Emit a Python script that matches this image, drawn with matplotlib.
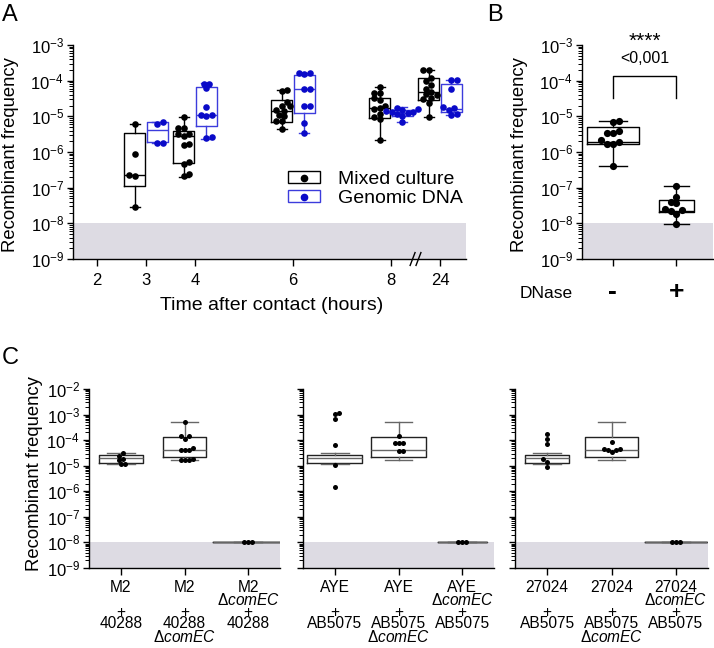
import numpy as np
import matplotlib
matplotlib.use("Agg")
import matplotlib.pyplot as plt
from matplotlib.lines import Line2D
from matplotlib.patches import Rectangle
from matplotlib.ticker import LogLocator, LogFormatterSciNotation, NullFormatter

plt.rcParams['font.family'] = ['Liberation Sans', 'DejaVu Sans']
plt.rcParams['mathtext.fontset'] = 'custom'
plt.rcParams['mathtext.rm'] = 'Liberation Sans'
plt.rcParams['mathtext.it'] = 'Liberation Sans:italic'
plt.rcParams['axes.linewidth'] = 1.0

# ---------------- DATA ----------------
# boxes are (min, q1, median, q3, max)

# Panel A
hours = [2, 3, 4, 6, 8, 24]
mixed_hours = [3, 4, 6, 8, 24]
mixed_box = [
    (2.8e-8, 1.14e-7, 2.26e-7, 3.5e-6, 6.0e-6),
    (2.04e-7, 5.0e-7, 2.8e-6, 4.0e-6, 9.8e-6),
    (4.4e-6, 6.8e-6, 1.41e-5, 2.87e-5, 5.5e-5),
    (2.17e-6, 9.2e-6, 1.68e-5, 3.33e-5, 6.5e-5),
    (9.4e-6, 2.87e-5, 4.9e-5, 1.16e-4, 2.0e-4),
]
mixed_pts = [
    [6.0e-6, 8.7e-7, 2.3e-7, 2.1e-7, 2.8e-8],
    [9.8e-6, 4.8e-6, 4.6e-6, 3.3e-6, 3.3e-6, 2.8e-6, 1.7e-6, 1.6e-6,
     5.4e-7, 4.6e-7, 2.4e-7, 2.1e-7],
    [5.5e-5, 5.3e-5, 2.6e-5, 2.0e-5, 1.9e-5, 1.5e-5, 1.45e-5, 1.1e-5,
     1.0e-5, 7.6e-6, 7.2e-6, 4.5e-6],
    [6.5e-5, 4.6e-5, 4.4e-5, 3.2e-5, 2.8e-5, 2.0e-5, 1.7e-5, 1.6e-5,
     1.2e-5, 9.5e-6, 8.5e-6, 2.2e-6],
    [2.0e-4, 1.95e-4, 1.2e-4, 1.0e-4, 7.8e-5, 6.0e-5, 4.9e-5, 4.2e-5,
     4.0e-5, 3.2e-5, 3.0e-5, 2.3e-5, 9.4e-6],
]
gdna_hours = [3, 4, 6, 8, 24]
gdna_box = [
    (1.83e-6, 1.85e-6, 4.14e-6, 6.8e-6, 7.1e-6),
    (2.26e-6, 5.37e-6, 1.09e-5, 6.5e-5, 8.8e-5),
    (3.5e-6, 1.27e-5, 5.7e-5, 1.41e-4, 1.67e-4),
    (7.1e-6, 1.02e-5, 1.27e-5, 1.51e-5, 1.79e-5),
    (1.09e-5, 1.32e-5, 1.57e-5, 7.9e-5, 1.04e-4),
]
gdna_pts = [
    [7.1e-6, 6.1e-6, 1.83e-6, 1.83e-6],
    [8.3e-5, 8.3e-5, 6.1e-5, 1.8e-5, 1.1e-5, 1.1e-5, 1.05e-5, 2.7e-6, 2.5e-6],
    [1.65e-4, 1.6e-4, 1.55e-4, 5.7e-5, 5.7e-5, 2.0e-5, 2.0e-5, 6.6e-6, 3.5e-6],
    [1.75e-5, 1.6e-5, 1.5e-5, 1.45e-5, 1.35e-5, 1.3e-5, 1.25e-5, 1.15e-5,
     1.05e-5, 7.1e-6],
    [1.04e-4, 1.02e-4, 5.7e-5, 1.8e-5, 1.7e-5, 1.5e-5, 1.2e-5, 1.1e-5],
]

# Panel B
dnase_labels = ['-', '+']
dnase_box = [
    (4.14e-7, 1.64e-6, 1.95e-6, 5.0e-6, 7.6e-6),
    (9.6e-9, 2.04e-8, 2.27e-8, 4.5e-8, 1.11e-7),
]
dnase_pts = [
    [7.6e-6, 7.0e-6, 3.8e-6, 3.5e-6, 3.4e-6, 2.2e-6, 1.95e-6, 1.7e-6, 1.65e-6, 4.1e-7],
    [1.11e-7, 5.6e-8, 3.9e-8, 3.6e-8, 2.5e-8, 2.4e-8, 2.2e-8, 1.8e-8, 9.6e-9],
]
p_stars = '****'
p_text = '<0,001'

# Panel C
c_donor = ['M2', 'AYE', '27024']
c_recipient = ['40288', 'AB5075', 'AB5075']
c_donor_mut = [False, False, True]       # ΔcomEC under the donor name
c_recipient_mut = [False, True, False]   # ΔcomEC under the recipient name
c_box = [
    [(1.15e-5, 1.26e-5, 1.97e-5, 2.66e-5, 3.09e-5),
     (1.7e-5, 2.16e-5, 4.17e-5, 1.38e-4, 5.3e-4),
     (1e-8, 1e-8, 1e-8, 1e-8, 1e-8)],
    [(1.15e-5, 1.26e-5, 1.97e-5, 2.66e-5, 3.09e-5),
     (1.7e-5, 2.16e-5, 4.17e-5, 1.38e-4, 5.3e-4),
     (1e-8, 1e-8, 1e-8, 1e-8, 1e-8)],
    [(1.15e-5, 1.26e-5, 1.97e-5, 2.66e-5, 3.09e-5),
     (1.7e-5, 2.16e-5, 4.17e-5, 1.38e-4, 5.3e-4),
     (1e-8, 1e-8, 1e-8, 1e-8, 1e-8)],
]
c_pts = [
    [[3.1e-5, 2.4e-5, 1.9e-5, 1.6e-5, 1.2e-5, 1.15e-5],
     [5.3e-4, 1.5e-4, 1.45e-4, 1.1e-4, 5.0e-5, 4.3e-5, 4.1e-5, 4.0e-5,
      1.8e-5, 1.7e-5, 1.65e-5, 1.6e-5],
     [1e-8, 1e-8, 1e-8]],
    [[1.19e-3, 1.06e-3, 6.8e-4, 6.5e-5, 1.02e-5, 1.46e-6],
     [1.48e-4, 7.7e-5, 7.6e-5, 7.5e-5, 3.6e-5, 3.6e-5],
     [1e-8, 1e-8, 1e-8]],
    [[1.76e-4, 1.12e-4, 7.1e-5, 1.8e-5, 1.38e-5, 8.8e-6],
     [8.1e-5, 4.5e-5, 4.4e-5, 4.3e-5, 4.2e-5, 3.3e-5],
     [1e-8, 1e-8, 1e-8]],
]

# ---------------- STYLE ----------------
W, H = 714, 648
band = '#dddbe3'
blue_edge = '#3c3cdc'
blue_dot = '#0a0ac8'

fig = plt.figure(figsize=(W / 100, H / 100), dpi=100)


def add_ax(l, t, r, b):
    return fig.add_axes([l / W, 1 - b / H, (r - l) / W, (b - t) / H])


def log_axis(ax, lo, hi):
    ax.set_yscale('log')
    ax.set_ylim(lo, hi)
    ax.yaxis.set_major_locator(LogLocator(base=10, numticks=20))
    ax.yaxis.set_minor_locator(LogLocator(base=10, subs=np.arange(2, 10), numticks=20))
    ax.yaxis.set_minor_formatter(NullFormatter())
    ax.yaxis.set_major_formatter(LogFormatterSciNotation())
    for s in ('top', 'right'):
        ax.spines[s].set_visible(False)
    ax.tick_params(axis='both', which='major', length=4.5, width=1, labelsize=12)
    ax.tick_params(axis='y', which='major', pad=2)
    ax.tick_params(axis='y', which='minor', length=2.6, width=0.7)
    ax.axhspan(lo, 1e-8, color=band, lw=0, zorder=0)


def swarm(ax, x0, values, diam):
    # simple beeswarm: push dots sideways until they stop overlapping (pixels)
    pts = ax.transData.transform(np.column_stack([np.full(len(values), x0), values]))
    ys = pts[:, 1]
    placed = []
    dx = np.zeros(len(values))
    for i in np.argsort(ys):
        k, best = 0, None
        while best is None:
            for sgn in ((1, -1) if len(placed) % 2 else (-1, 1)):
                cand = sgn * k * diam * 0.4
                if all((cand - px) ** 2 + (ys[i] - py) ** 2 >= (diam * 0.8) ** 2 for px, py in placed):
                    best = cand
                    break
            k += 1
        placed.append((best, ys[i]))
        dx[i] = best
    back = ax.transData.inverted().transform(np.column_stack([pts[:, 0] + dx, ys]))
    return back[:, 0]


def boxes(ax, pos, stats, widths, capw, ec, wc=None, mc=None, lw=1.0):
    wc = wc or ec
    mc = mc or ec
    st = [dict(whislo=b[0], q1=b[1], med=b[2], q3=b[3], whishi=b[4], fliers=[]) for b in stats]
    ax.bxp(st, positions=pos, widths=widths, capwidths=capw, showfliers=False,
           manage_ticks=False,
           boxprops=dict(color=ec, lw=lw), whiskerprops=dict(color=wc, lw=lw),
           capprops=dict(color=wc, lw=lw), medianprops=dict(color=mc, lw=lw))


def dots(ax, pos, pts, color, size_px):
    for p, vals in zip(pos, pts):
        xs = swarm(ax, p, vals, size_px)
        ax.scatter(xs, vals, s=(size_px * 0.72) ** 2, color=color, zorder=3,
                   linewidths=0, clip_on=False)


# ---------------- PANEL A ----------------
def hour_x(h):
    # 24 h sits just after the axis break
    return h if h <= 8 else 9


axA = add_ax(73, 45, 466, 259)
log_axis(axA, 1e-9, 1e-3)
axA.set_xlim(1.51, 9.53)
axA.set_xticks([hour_x(h) for h in hours])
axA.set_xticklabels([str(h) for h in hours])
axA.tick_params(axis='x', length=5, pad=5)

mx = [hour_x(h) - 0.23 for h in mixed_hours]
gx = [hour_x(h) + 0.23 for h in gdna_hours]
boxes(axA, mx, mixed_box, 0.43, 0.2, 'black')
boxes(axA, gx, gdna_box, 0.43, 0.2, blue_edge)
dots(axA, mx, mixed_pts, 'black', 6.6)
dots(axA, gx, gdna_pts, blue_dot, 6.6)

# axis break marks
for xb in (8.44, 8.56):
    axA.plot([xb - 0.05, xb + 0.05], [-0.03, 0.03], color='black', lw=1.0,
             transform=axA.get_xaxis_transform(), clip_on=False)

h1 = (Rectangle((0, 0), 1, 1, fc='none', ec='black', lw=1.0),
      Line2D([], [], marker='o', ls='none', color='black', ms=4.5))
h2 = (Rectangle((0, 0), 1, 1, fc='none', ec=blue_edge, lw=1.0),
      Line2D([], [], marker='o', ls='none', color=blue_dot, ms=4.5))
axA.legend([h1, h2], ['Mixed culture', 'Genomic DNA'], loc='upper left',
           bbox_to_anchor=(288 / W, 1 - 171 / H), bbox_transform=fig.transFigure,
           frameon=False, fontsize=14, handlelength=1.65, handleheight=0.55,
           handletextpad=0.9, labelspacing=0.1, borderpad=0, borderaxespad=0)

fig.text(10.5 / W, 1 - 154.5 / H, 'Recombinant frequency', rotation=90,
         ha='center', va='center', fontsize=13.3)
fig.text(271.5 / W, 1 - 306 / H, 'Time after contact (hours)', ha='center',
         va='center', fontsize=14)

# ---------------- PANEL B ----------------
axB = add_ax(582, 45, 713, 259)
log_axis(axB, 1e-9, 1e-3)
axB.set_xlim(0.515, 2.577)
axB.set_xticks([1, 2])
axB.tick_params(axis='x', length=5, labelbottom=False)
boxes(axB, [1, 2], dnase_box, [0.82, 0.56], [0.44, 0.39], 'black')
dots(axB, [1, 2], dnase_pts, 'black', 7.2)
for x, lab in zip([1, 2], dnase_labels):
    axB.annotate(lab, xy=(x, 0), xycoords=('data', 'axes fraction'),
                 xytext=(0, -33 * 0.72), textcoords='offset points',
                 ha='center', va='center', fontsize=19, fontweight='bold',
                 annotation_clip=False)
axB.plot([1, 1, 2, 2], [3.3e-5, 1.35e-4, 1.35e-4, 3.3e-5], color='black',
         lw=1.0, clip_on=False)
axB.text(1.5, 1.25e-3, p_stars, ha='center', va='center', fontsize=15)
axB.text(1.5, 4.3e-4, p_text, ha='center', va='center', fontsize=11.5)
fig.text(546 / W, 1 - 293 / H, 'DNase', ha='center', va='center', fontsize=12.5)
fig.text(520 / W, 1 - 155 / H, 'Recombinant frequency', rotation=90,
         ha='center', va='center', fontsize=13.3)

# ---------------- PANEL C ----------------
c_frames = [(89, 280), (303, 494), (515, 708)]
c_widths = [[0.69, 0.69, 1.1], [0.86, 0.85, 0.77], [0.68, 0.82, 0.97]]
mut = r'Δ$\mathit{comEC}$'
for k, (l, r) in enumerate(c_frames):
    ax = add_ax(l, 389, r, 568)
    log_axis(ax, 1e-9, 1e-2)
    ax.set_xlim(0.5, 3.5)
    ax.set_xticks([1, 2, 3])
    ax.tick_params(axis='x', length=5, labelbottom=False)
    if k > 0:
        ax.tick_params(axis='y', labelleft=False)
    boxes(ax, [1, 2, 3], c_box[k], c_widths[k], 0.43, '#222222', wc='#666666',
          mc='#666666', lw=1.0)
    dots(ax, [1, 2, 3], c_pts[k], 'black', 5.0)
    for i in range(3):
        lines = [(c_donor[k], 20), ('+', 44), (c_recipient[k], 56)]
        if c_donor_mut[i]:
            lines.append((mut, 32))
        if c_recipient_mut[i]:
            lines.append((mut, 69))
        for txt, dy in lines:
            ax.annotate(txt, xy=(i + 1, 0), xycoords=('data', 'axes fraction'),
                        xytext=(0, -dy * 0.72), textcoords='offset points',
                        ha='center', va='center', fontsize=11.2,
                        annotation_clip=False)

fig.text(34.5 / W, 1 - 473.5 / H, 'Recombinant frequency', rotation=90,
         ha='center', va='center', fontsize=13.3)

# panel letters
for lab, x, y in [('A', 2, 4), ('B', 487, 4), ('C', 2, 347)]:
    fig.text(x / W, 1 - y / H, lab, ha='left', va='top', fontsize=17)

fig.savefig('out.png', dpi=100)
